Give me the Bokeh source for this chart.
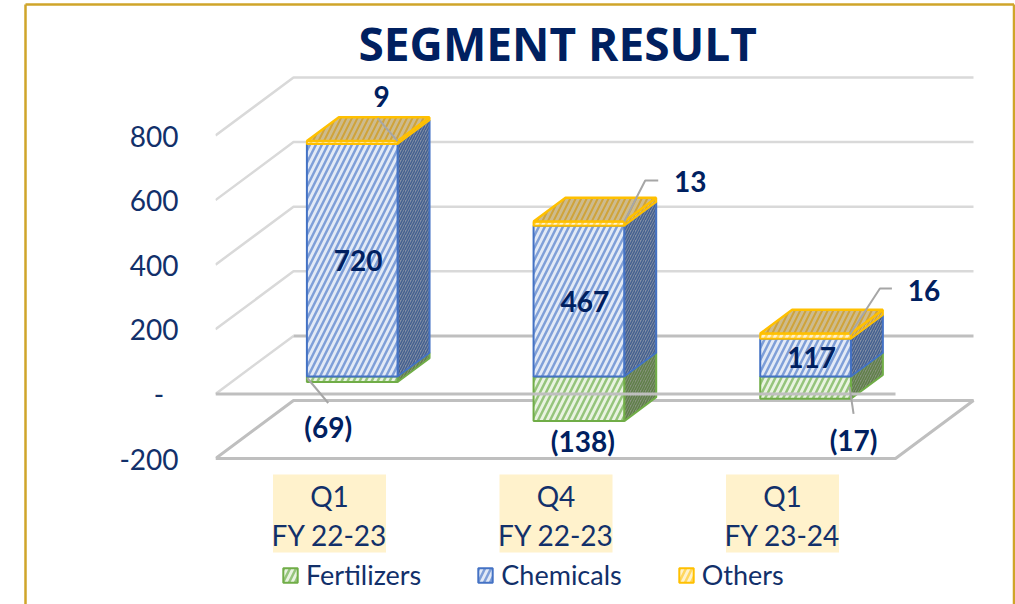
from bokeh.plotting import figure
from bokeh.models import Range1d, LinearAxis, FixedTicker, Legend, LegendItem, Title
from bokeh.core.properties import value as val
from bokeh.embed import file_html
from bokeh.resources import INLINE

# ---- data
categories_top = ["Q1", "Q4", "Q1"]
categories_bottom = ["FY 22-23", "FY 22-23", "FY 23-24"]
fertilizers = [-17, -138, -69]
chemicals = [720, 467, 117]
others = [9, 13, 16]
fert_labels = ["(69)", "(138)", "(17)"]
chem_labels = ["720", "467", "117"]
other_labels = ["9", "13", "16"]
y_ticks = [-200, 0, 200, 400, 600, 800]

# ---- page geometry
W, H = 1015, 604
PLOT_L, PLOT_R = 215, 895
FRAME_T = 74
ZERO_PY = 393.4
PX_PER_UNIT = 0.323
CAT_PX = (PLOT_R - PLOT_L) / 3
FONT = "Lato"
NAVY = "#002060"
SOFT_NAVY = "#12306a"
GRID = "#d9d9d9"
GRID2 = "#bfbfbf"
GOLD = "#cfa52a"

def sx(px):
    return (px - PLOT_L) / CAT_PX
def sy(py):
    return (ZERO_PY - py) / PX_PER_UNIT

DEPTH_X = 78 / CAT_PX
DEPTH_Y = 58 / PX_PER_UNIT
def pr(c, v, d):
    return c + d * DEPTH_X, v + d * DEPTH_Y

p = figure(width=W, height=H, output_backend="svg", toolbar_location=None,
           x_range=Range1d(sx(PLOT_L), sx(W)), y_range=Range1d(sy(H), sy(FRAME_T)),
           min_border_left=PLOT_L, min_border_right=0, min_border_top=FRAME_T, min_border_bottom=0,
           margin=0, outline_line_color=None, border_fill_color=None,
           background_fill_color="white")
p.xaxis.visible = False
p.yaxis.visible = False
p.grid.visible = False

p.title = Title(text="SEGMENT RESULT", text_font="Open Sans", text_font_size="46px", text_font_style="bold",
                text_color=NAVY, align="left", offset=143, standoff=2)

yaxis = LinearAxis(ticker=FixedTicker(ticks=y_ticks),
                   major_label_overrides={0: "-\u00a0\u00a0", -200: "-200"},
                   axis_line_color=None, major_tick_line_color=None, minor_tick_line_color=None,
                   major_label_text_font=FONT, major_label_text_font_size="28px",
                   major_label_text_color=SOFT_NAVY, major_label_standoff=31)
p.add_layout(yaxis, "left")

# ---- walls and floor
for t in y_ticks[2:]:
    xs = [pr(0, t, 0)[0], pr(0, t, 1)[0], pr(3, t, 1)[0]]
    ys = [pr(0, t, 0)[1], pr(0, t, 1)[1], pr(3, t, 1)[1]]
    p.line(xs, ys, line_color=GRID, line_width=2.5)
xs0 = [pr(0, 0, 0)[0], pr(0, 0, 1)[0], pr(3, 0, 1)[0]]
ys0 = [pr(0, 0, 0)[1], pr(0, 0, 1)[1], pr(3, 0, 1)[1]]
p.line(xs0[:2], ys0[:2], line_color=GRID, line_width=2.5)
p.line(xs0[1:], ys0[1:], line_color=GRID2, line_width=3)
flo = [pr(0, -200, 0), pr(3, -200, 0), pr(3, -200, 1), pr(0, -200, 1), pr(0, -200, 0)]
p.line([a[0] for a in flo], [a[1] for a in flo], line_color=GRID2, line_width=3)

# ---- bars
HALF = 0.2
D0, D1 = 0.30, 0.71

def faces(i, lo, hi):
    l, r = i + 0.5 - HALF, i + 0.5 + HALF
    a, b, c, d = pr(l, lo, D0), pr(r, lo, D0), pr(r, hi, D0), pr(l, hi, D0)
    front = ([a[0], b[0], c[0], d[0]], [a[1], b[1], c[1], d[1]])
    e, f = pr(r, lo, D1), pr(r, hi, D1)
    side = ([b[0], e[0], f[0], c[0]], [b[1], e[1], f[1], c[1]])
    g, h = pr(r, hi, D1), pr(l, hi, D1)
    top = ([d[0], c[0], g[0], h[0]], [d[1], c[1], g[1], h[1]])
    return front, side, top

styles = {
    "Fertilizers": dict(line="#70ad47", fill="#e9f3e1", hatch="#95c47b", sfill="#87937c", shatch="#5f7f49"),
    "Chemicals": dict(line="#4472c4", fill="#e3eaf6", hatch="#7f9fd8", sfill="#8590a6", shatch="#44608f"),
    "Others": dict(line="#ffc000", fill="#fff2cc", hatch="#ffd75e", sfill="#cdbb8e", shatch="#cfa33a"),
}
spans = {
    "Fertilizers": [(v, 0) for v in fertilizers],
    "Chemicals": [(0, v) for v in chemicals],
    "Others": [(c, c + o) for c, o in zip(chemicals, others)],
}
legend_items = []
for name in ["Fertilizers", "Chemicals", "Others"]:
    st = styles[name]
    fx, fy, sxs, sys_ = [], [], [], []
    for i, (lo, hi) in enumerate(spans[name]):
        fr, si, _ = faces(i, lo, hi)
        fx.append(fr[0]); fy.append(fr[1]); sxs.append(si[0]); sys_.append(si[1])
    p.patches(sxs, sys_, fill_color=st["sfill"], line_color=st["line"], line_width=2,
              hatch_pattern="right_diagonal_line", hatch_color=st["shatch"], hatch_weight=1.5, hatch_scale=5)
    r = p.patches(fx, fy, fill_color=st["fill"], line_color=st["line"], line_width=2,
                  hatch_pattern="right_diagonal_line", hatch_color=st["hatch"], hatch_weight=2.5, hatch_scale=12)
    legend_items.append(LegendItem(label=name, renderers=[r]))

tx, ty = [], []
for i, (lo, hi) in enumerate(spans["Others"]):
    _, _, top = faces(i, lo, hi)
    tx.append(top[0]); ty.append(top[1])
st = styles["Others"]
p.patches(tx, ty, fill_color=st["sfill"], line_color=st["line"], line_width=2.5,
          hatch_pattern="right_diagonal_line", hatch_color=st["shatch"], hatch_weight=2, hatch_scale=11)

# ---- front edge of the zero plane, over the bars
zl = [pr(0, 0, 0), pr(3, 0, 0)]
p.line([a[0] for a in zl], [a[1] for a in zl], line_color=GRID2, line_width=3)

# ---- data labels and their leader lines (pixel offsets from the bar corner)
LEADER = "#a6a6a6"
other_leaders = [[(0, 0), (-20, -23)], [(0, 0), (21, -41), (34, -41)], [(-1, 1), (29, -45), (41, -45)]]
other_off = [(-16, -45), (66, -40), (73, -43)]
fert_leaders = [[(-45, -4), (-24, 21)], None, [(44, -12), (48, 15)]]
fert_off = [(-24, 45), (4, 20), (48, 41)]

def txt(x, y, s, size="28px", style="bold", color=NAVY):
    p.text([x], [y], text=[s], text_font=val(FONT), text_font_size=val(size), text_font_style=style,
           text_color=color, text_align="center", text_baseline="middle", level="overlay")

for i in range(3):
    cx, cy = pr(i + 0.5 + HALF, chemicals[i] + others[i], D0)
    lk = other_leaders[i]
    p.line([cx + a / CAT_PX for a, _ in lk], [cy - b / PX_PER_UNIT for _, b in lk], line_color=LEADER, line_width=2)
    txt(cx + other_off[i][0] / CAT_PX, cy - other_off[i][1] / PX_PER_UNIT, other_labels[i])
    bx, by = pr(i + 0.5, fertilizers[i], D0)
    if fert_leaders[i]:
        lk = fert_leaders[i]
        p.line([bx + a / CAT_PX for a, _ in lk], [by - b / PX_PER_UNIT for _, b in lk], line_color=LEADER, line_width=2)
    txt(bx + fert_off[i][0] / CAT_PX, by - fert_off[i][1] / PX_PER_UNIT, fert_labels[i])
    mx, my = pr(i + 0.5, chemicals[i] / 2, D0)
    txt(mx + 6 / CAT_PX, my, chem_labels[i])

# ---- category labels on cream
for i in range(3):
    c = sx(329 + i * 226.5)
    p.quad(left=[c - 56.5 / CAT_PX], right=[c + 56.5 / CAT_PX], top=[sy(474)], bottom=[sy(552)],
           fill_color="#fff2cc", line_color=None)
    txt(c, sy(495), categories_top[i], size="28px", style="normal", color=SOFT_NAVY)
    txt(c, sy(534), categories_bottom[i], size="28px", style="normal", color=SOFT_NAVY)

# ---- legend
legend = Legend(items=legend_items, orientation="horizontal", location=(66, 13), background_fill_alpha=0,
                border_line_color=None, padding=0, margin=0, spacing=55, label_standoff=7,
                glyph_width=18, glyph_height=18, label_text_font=FONT, label_text_font_size="27px",
                label_text_color=SOFT_NAVY)
p.add_layout(legend, "center")

# ---- outer gold frame
p.multi_line([[sx(25), sx(25)], [sx(25), sx(1013.5)], [sx(1013.5), sx(1013.5)]],
             [[sy(604), sy(4)], [sy(4), sy(4)], [sy(4), sy(604)]],
             line_color=GOLD, line_width=2.5, level="overlay")

open("out.html", "w").write(file_html(p, INLINE))
